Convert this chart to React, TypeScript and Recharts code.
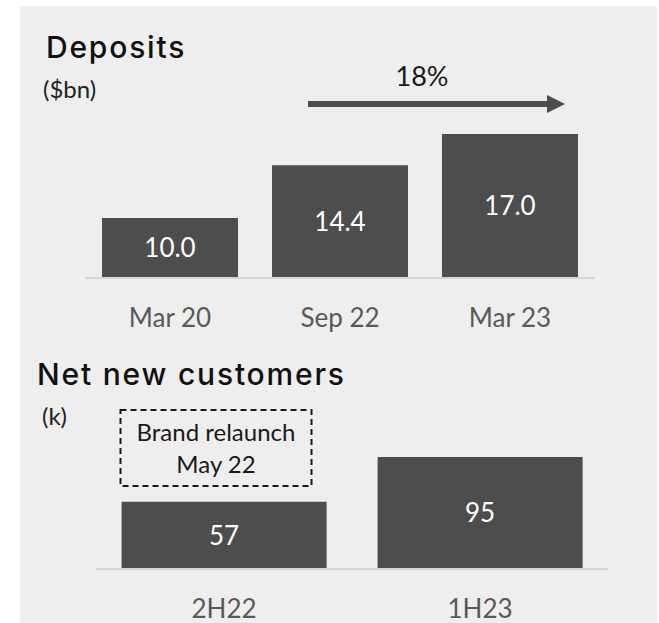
import React from 'react';
import { BarChart, Bar, XAxis, YAxis, LabelList } from 'recharts';

const depositCategories = ['Mar 20', 'Sep 22', 'Mar 23'];
const depositValues = [10.0, 14.4, 17.0];
const depositGrowth = '18%';

const customerCategories = ['2H22', '1H23'];
const customerValues = [57, 95];
const relaunchNote = ['Brand relaunch', 'May 22'];

const BAR = '#4d4d4d';
const BODY_FONT = 'Lato, "Noto Sans", sans-serif';
const TITLE_FONT = 'Inter, "DejaVu Sans", sans-serif';

const depositData = depositCategories.map((name, i) => ({ name, value: depositValues[i] }));
const customerData = customerCategories.map((name, i) => ({ name, value: customerValues[i] }));

const CategoryTick = (props: any) => {
  const { x, y, payload } = props;
  return (
    <text x={x} y={y} dy={41} textAnchor="middle" fill="#595959" fontFamily={BODY_FONT} fontSize={26}>
      {payload.value}
    </text>
  );
};

const App: React.FC = () => {
  return (
    <div style={{ position: 'absolute', left: 0, top: 0, width: 659, height: 623, background: '#fff' }}>
      <div style={{ position: 'absolute', left: 20, top: 6, width: 637, height: 617, background: '#eeeeee' }} />

      {/* Deposits */}
      <div style={{ position: 'absolute', left: 0, top: 0 }}>
        <BarChart width={659} height={340} data={depositData} barCategoryGap="10%"
          margin={{ top: 98, right: 64, bottom: 22, left: 85 }}>
          <XAxis dataKey="name" height={40} axisLine={{ stroke: '#d6d6d6', strokeWidth: 2 }}
            tickLine={false} tick={<CategoryTick />} interval={0} />
          <YAxis hide domain={[5, 20]} />
          <Bar dataKey="value" fill={BAR} isAnimationActive={false}>
            <LabelList dataKey="value" position="center" fill="#fff" fontFamily={BODY_FONT} fontSize={26}
              formatter={(v: any) => Number(v).toFixed(1)} />
          </Bar>
        </BarChart>
      </div>

      {/* Net new customers */}
      <div style={{ position: 'absolute', left: 0, top: 340 }}>
        <BarChart width={659} height={283} data={customerData} barCategoryGap="10%"
          margin={{ top: 111, right: 51, bottom: 14, left: 96 }}>
          <XAxis dataKey="name" height={40} axisLine={{ stroke: '#d6d6d6', strokeWidth: 2 }}
            tickLine={false} tick={<CategoryTick />} interval={0} />
          <YAxis hide domain={[0, 100]} />
          <Bar dataKey="value" fill={BAR} isAnimationActive={false}>
            <LabelList dataKey="value" position="center" fill="#fff" fontFamily={BODY_FONT} fontSize={26} />
          </Bar>
        </BarChart>
      </div>

      {/* titles and annotations */}
      <svg width={659} height={623} style={{ position: 'absolute', left: 0, top: 0, pointerEvents: 'none' }}>
        <text x={46} y={58} fontFamily={TITLE_FONT} fontWeight={500} fontSize={30} letterSpacing={1.8} fill="#111">Deposits</text>
        <text x={43} y={98} fontFamily={BODY_FONT} fontSize={24} fill="#222">($bn)</text>

        <text x={422} y={86} textAnchor="middle" fontFamily={BODY_FONT} fontSize={27} fill="#1a1a1a">{depositGrowth}</text>
        <line x1={308} y1={104} x2={549} y2={104} stroke={BAR} strokeWidth={6} />
        <polygon points="547,95 565,104 547,113" fill={BAR} />

        <text x={37} y={385} fontFamily={TITLE_FONT} fontWeight={500} fontSize={30} letterSpacing={1.8} fill="#111">Net new customers</text>
        <text x={42} y={425} fontFamily={BODY_FONT} fontSize={24} fill="#222">(k)</text>

        <rect x={120.5} y={410} width={191} height={76} fill="none" stroke="#1a1a1a" strokeWidth={2} strokeDasharray="6 4" />
        <text x={216} y={441} textAnchor="middle" fontFamily={BODY_FONT} fontSize={24} fill="#1a1a1a">{relaunchNote[0]}</text>
        <text x={216} y={473} textAnchor="middle" fontFamily={BODY_FONT} fontSize={24} fill="#1a1a1a">{relaunchNote[1]}</text>
      </svg>
    </div>
  );
};

export default App;
